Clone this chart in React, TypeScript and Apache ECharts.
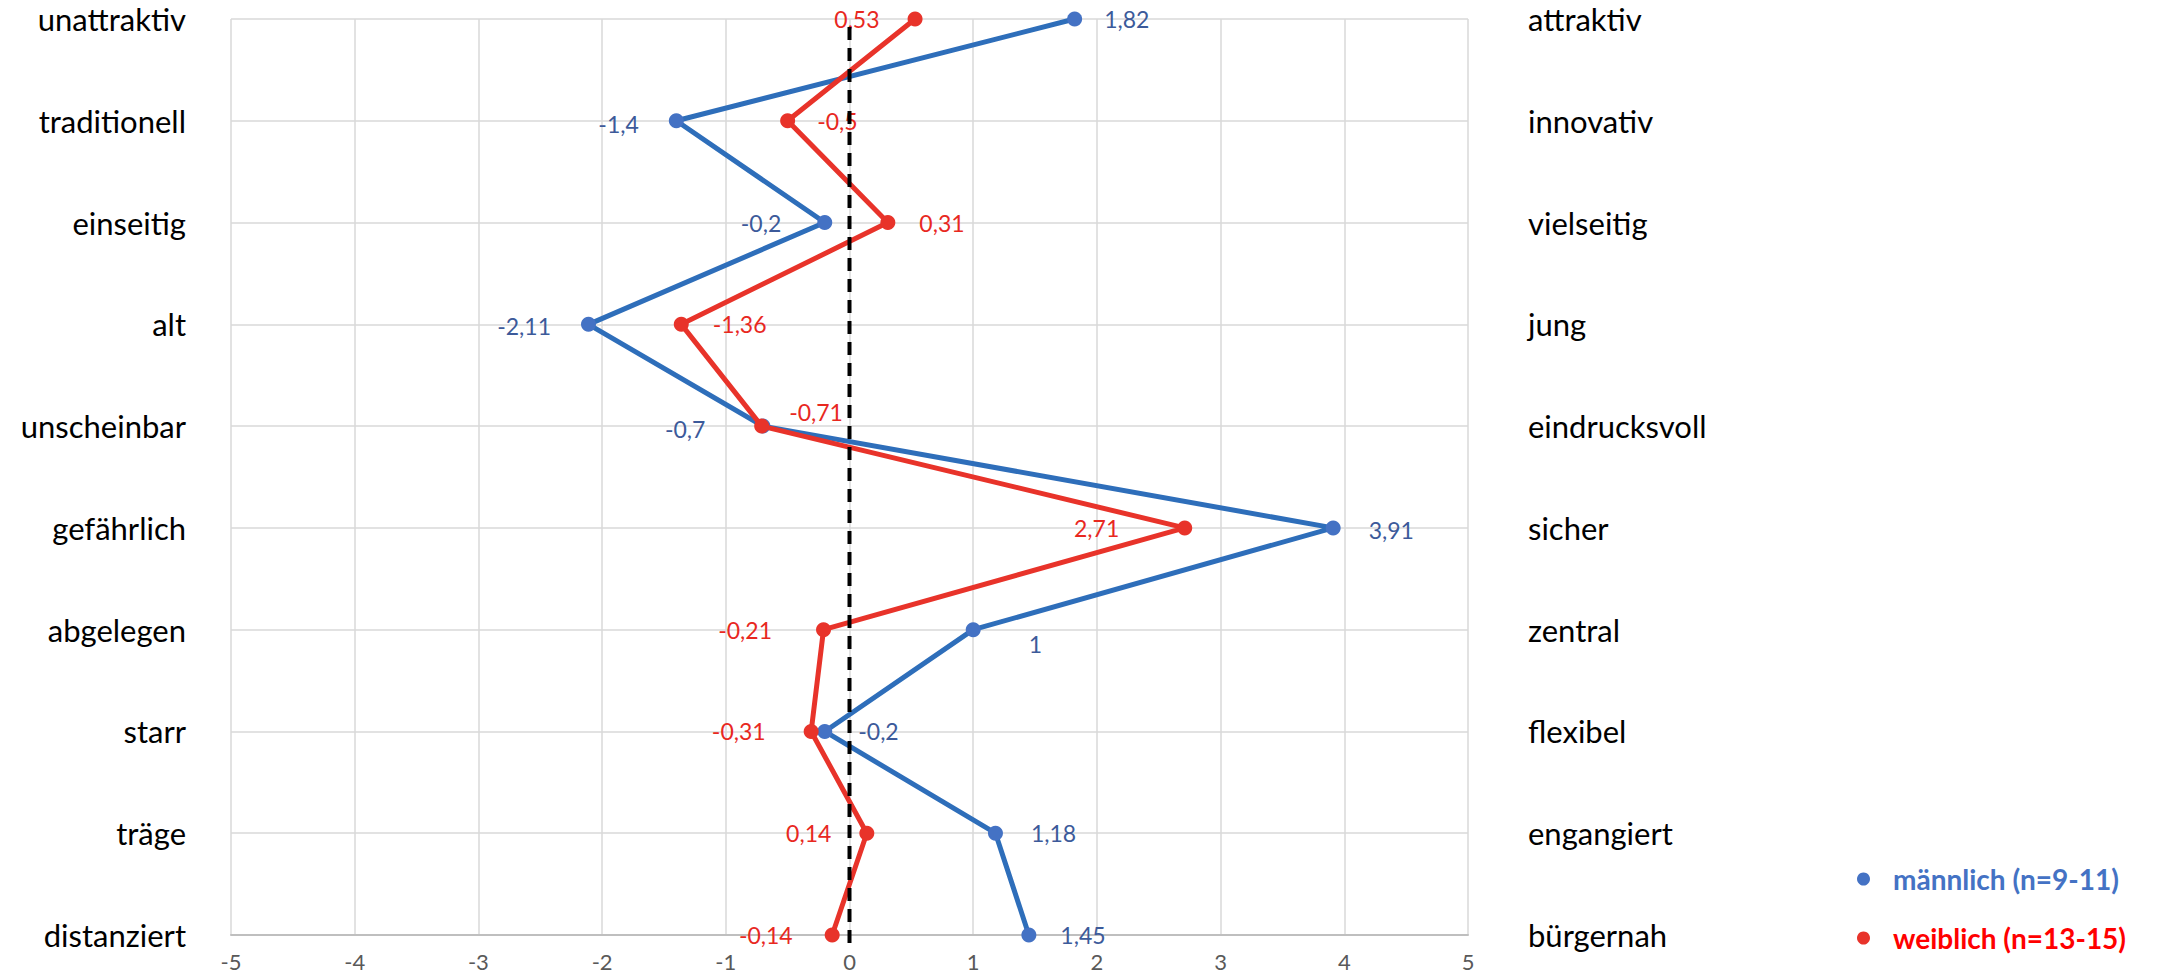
import React, { useEffect, useRef } from 'react';
import * as echarts from 'echarts';

const leftCategories = ['unattraktiv', 'traditionell', 'einseitig', 'alt', 'unscheinbar', 'gefährlich', 'abgelegen', 'starr', 'träge', 'distanziert'];
const rightCategories = ['attraktiv', 'innovativ', 'vielseitig', 'jung', 'eindrucksvoll', 'sicher', 'zentral', 'flexibel', 'engangiert', 'bürgernah'];
const maleValues = [1.82, -1.4, -0.2, -2.11, -0.7, 3.91, 1, -0.2, 1.18, 1.45];
const femaleValues = [0.53, -0.5, 0.31, -1.36, -0.71, 2.71, -0.21, -0.31, 0.14, -0.14];
const maleName = 'männlich (n=9-11)';
const femaleName = 'weiblich (n=13-15)';
const xMin = -5;
const xMax = 5;
const xStep = 1;

// label placement (style, not data)
const maleLabelPlace: any[] = [
  { position: 'right', distance: 22 },
  { position: 'left', distance: 30, offset: [0, 3] },
  { position: 'left', distance: 36 },
  { position: 'left', distance: 30, offset: [0, 2] },
  { position: 'left', distance: 50, offset: [0, 3] },
  { position: 'right', distance: 28, offset: [0, 2] },
  { position: 'right', distance: 48, offset: [0, 14] },
  { position: 'right', distance: 26 },
  { position: 'right', distance: 28 },
  { position: 'right', distance: 24 },
];
const femaleLabelPlace: any[] = [
  { position: 'left', distance: 28 },
  { position: 'right', distance: 22 },
  { position: 'right', distance: 24 },
  { position: 'right', distance: 24 },
  { position: 'right', distance: 20, offset: [0, -14] },
  { position: 'left', distance: 58 },
  { position: 'left', distance: 44 },
  { position: 'left', distance: 38 },
  { position: 'left', distance: 28 },
  { position: 'left', distance: 32 },
];

const FONT = 'Lato';
const fmt = (v: number) => String(v).replace('.', ',');

export default function App() {
  const ref = useRef<HTMLDivElement>(null);
  useEffect(() => {
    if (!ref.current) return;
    const chart = echarts.init(ref.current, undefined, { renderer: 'svg' });
    const mkData = (vals: number[], places: any[], color: string) =>
      vals.map((v, i) => ({
        value: [v, i],
        label: { show: true, color, fontFamily: FONT, fontSize: 23, formatter: () => fmt(v), ...places[i] },
      }));
    chart.setOption({
      animation: false,
      backgroundColor: '#ffffff',
      grid: { left: 231, right: 691, top: 19, bottom: 44, containLabel: false },
      xAxis: {
        type: 'value',
        min: xMin,
        max: xMax,
        interval: xStep,
        axisLine: { show: true, lineStyle: { color: '#BFBFBF', width: 2 } },
        axisTick: { show: false },
        axisLabel: { color: '#595959', fontFamily: FONT, fontSize: 22, margin: 15 },
        splitLine: { show: true, lineStyle: { color: '#D9D9D9', width: 1.5 } },
      },
      yAxis: [
        {
          type: 'category',
          data: leftCategories,
          inverse: true,
          boundaryGap: false,
          position: 'left',
          axisLine: { show: false },
          axisTick: { show: false },
          axisLabel: { color: '#000', fontFamily: FONT, fontSize: 31, margin: 45 },
          splitLine: { show: true, lineStyle: { color: '#D9D9D9', width: 1.5 } },
        },
        {
          type: 'category',
          data: rightCategories,
          inverse: true,
          boundaryGap: false,
          position: 'right',
          axisLine: { show: false },
          axisTick: { show: false },
          axisLabel: { color: '#000', fontFamily: FONT, fontSize: 31, margin: 60, align: 'left' },
          splitLine: { show: false },
        },
      ],
      legend: {
        orient: 'vertical',
        left: 1852,
        top: 857,
        icon: 'circle',
        itemWidth: 13,
        itemHeight: 13,
        itemGap: 25,
        textStyle: { fontFamily: FONT, fontSize: 28, fontWeight: 'bold', padding: [0, 0, 0, 18], lineHeight: 34 },
        data: [
          { name: maleName, textStyle: { color: '#4472C4' } },
          { name: femaleName, textStyle: { color: '#FF0000' } },
        ],
      },
      series: [
        {
          name: maleName,
          type: 'line',
          yAxisIndex: 0,
          data: mkData(maleValues, maleLabelPlace, '#3C5A9A'),
          symbol: 'circle',
          symbolSize: 15,
          lineStyle: { color: '#2E6EBA', width: 5 },
          itemStyle: { color: '#4472C4' },
          z: 3,
        },
        {
          name: femaleName,
          type: 'line',
          yAxisIndex: 0,
          data: mkData(femaleValues, femaleLabelPlace, '#E8281F'),
          symbol: 'circle',
          symbolSize: 15,
          lineStyle: { color: '#E8332A', width: 5 },
          itemStyle: { color: '#E8332A' },
          z: 4,
        },
      ],
    });
    const x0 = chart.convertToPixel({ xAxisIndex: 0 }, 0) as number;
    const yTop = chart.convertToPixel({ yAxisIndex: 0 }, leftCategories[0]) as number;
    const yBot = chart.convertToPixel({ yAxisIndex: 0 }, leftCategories[leftCategories.length - 1]) as number;
    chart.setOption({
      graphic: [
        {
          type: 'line',
          z: 100,
          shape: { x1: x0, y1: yTop + 8, x2: x0, y2: yBot + 14 },
          style: { stroke: '#000', lineWidth: 4, lineDash: [13, 8] },
          silent: true,
        },
      ],
    });
    return () => chart.dispose();
  }, []);
  return <div ref={ref} style={{ position: 'absolute', left: 0, top: 0, width: 2159, height: 979 }} />;
}
